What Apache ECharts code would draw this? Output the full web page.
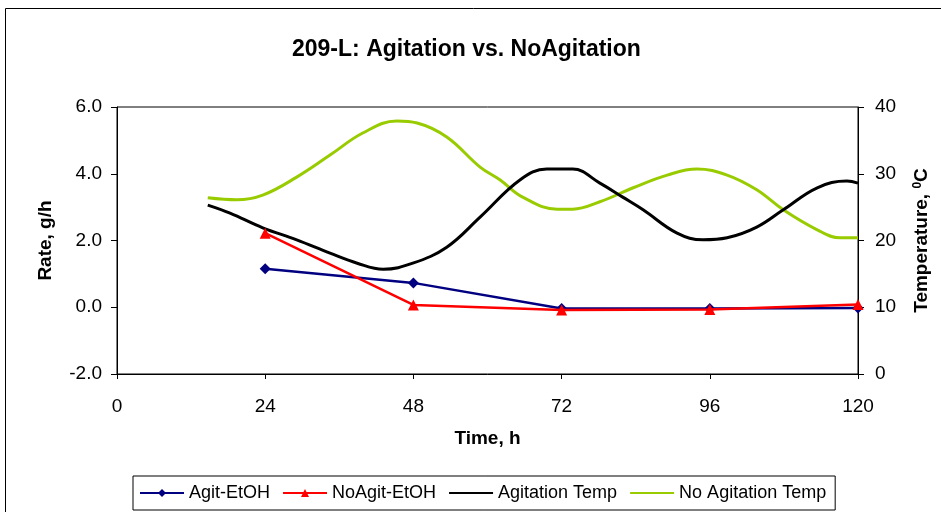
<!DOCTYPE html>
<html>
<head>
<meta charset="utf-8">
<script src="https://cdn.jsdelivr.net/npm/echarts@6/dist/echarts.min.js"></script>
<style>
  html, body { margin: 0; padding: 0; background: #fff; }
  #chart { width: 941px; height: 512px; }
</style>
</head>
<body>
<div id="chart"></div>
<script>
// Sampling times (h) and measured ethanol rates (g/h)
var rateTimes = [24, 48, 72, 96, 120];
var agitEtOH = [1.15, 0.73, -0.04, -0.04, -0.02];
var noAgitEtOH = [2.22, 0.07, -0.08, -0.07, 0.08];

// Temperature log (h, degC)
var agitTempTimes = [14.7, 18.3, 23.6, 29.1, 34.5, 38.9, 43.1, 47.9, 53.4, 58.8, 65.3, 69.6, 73.8, 78.2, 81.9, 85.2, 90.7, 94.9, 98.8, 103.6, 107.9, 113.4, 118.2, 120];
var agitTemp = [25.3, 24.1, 21.9, 20.1, 18.1, 16.6, 15.7, 16.6, 19.0, 23.5, 29.1, 30.7, 30.7, 28.6, 26.5, 24.6, 21.1, 20.1, 20.4, 22.0, 24.6, 27.9, 28.9, 28.6];

var noAgitTempTimes = [14.7, 19.4, 23.6, 29.1, 34.5, 39.8, 45.3, 48.6, 53.4, 58.8, 62.0, 65.7, 71.3, 73.8, 78.2, 83.6, 89.1, 93.9, 98.8, 103.6, 107.9, 113.4, 117.1, 120];
var noAgitTemp = [26.4, 26.1, 26.8, 29.5, 32.8, 36.1, 37.9, 37.6, 35.5, 31.0, 29.1, 26.5, 24.7, 24.7, 25.8, 27.9, 29.8, 30.7, 29.8, 27.6, 24.6, 21.6, 20.4, 20.4];

// Axis ticks
var timeTicks = [0, 24, 48, 72, 96, 120];
var rateTicks = [-2, 0, 2, 4, 6];
var tempTicks = [0, 10, 20, 30, 40];

function pairs(xs, ys) {
  return xs.map(function (x, i) { return [x, ys[i]]; });
}

var font = 'Liberation Sans, Arial, sans-serif';
var nameStyle = { fontFamily: font, fontSize: 19, fontWeight: 'bold', color: '#000' };
var labelStyle = { fontFamily: font, fontSize: 19, color: '#000' };
var chart = echarts.init(document.getElementById('chart'));

chart.setOption({
  animation: false,
  backgroundColor: '#fff',
  title: {
    text: '209-L: Agitation vs. NoAgitation',
    left: 287,
    top: 33,
    textStyle: { fontFamily: font, fontSize: 23, fontWeight: 'bold', color: '#000' }
  },
  graphic: [{
    type: 'rect',
    shape: { x: 5.5, y: 8.5, width: 960, height: 520 },
    style: { fill: 'none', stroke: '#000', lineWidth: 1 },
    silent: true,
    z: -1
  }],
  legend: {
    bottom: 2,
    left: 133,
    padding: [8, 9, 8, 6],
    borderColor: '#000',
    borderWidth: 1,
    itemWidth: 44,
    itemHeight: 10,
    itemGap: 12,
    textStyle: { fontFamily: font, fontSize: 18, color: '#000' },
    data: [
      'Agit-EtOH',
      'NoAgit-EtOH',
      { name: 'Agitation Temp', itemStyle: { opacity: 0 } },
      { name: 'No Agitation Temp', itemStyle: { opacity: 0 } }
    ]
  },
  grid: {
    left: 117, right: 83, top: 107, bottom: 138,
    show: true, borderColor: '#000', borderWidth: 1, backgroundColor: '#fff'
  },
  xAxis: {
    type: 'value',
    min: timeTicks[0],
    max: timeTicks[timeTicks.length - 1],
    interval: 24,
    name: 'Time, h',
    nameLocation: 'middle',
    nameGap: 55,
    nameTextStyle: nameStyle,
    axisLine: { onZero: false, lineStyle: { color: '#000', width: 1 } },
    axisTick: { show: true, length: 5, lineStyle: { color: '#000' } },
    axisLabel: Object.assign({ margin: 23 }, labelStyle),
    splitLine: { show: false }
  },
  yAxis: [{
    type: 'value',
    min: rateTicks[0],
    max: rateTicks[rateTicks.length - 1],
    interval: 2,
    position: 'left',
    name: 'Rate, g/h',
    nameLocation: 'middle',
    nameRotate: 90,
    nameGap: 62,
    nameTextStyle: nameStyle,
    axisLine: { show: true, lineStyle: { color: '#000', width: 1 } },
    axisTick: { show: true, length: 6, lineStyle: { color: '#000' } },
    axisLabel: Object.assign({
      margin: 15,
      formatter: function (v) { return v.toFixed(1); }
    }, labelStyle),
    splitLine: { show: false }
  }, {
    type: 'value',
    min: tempTicks[0],
    max: tempTicks[tempTicks.length - 1],
    interval: 10,
    position: 'right',
    name: 'Temperature, {sup|0}C',
    nameLocation: 'middle',
    nameRotate: 90,
    nameGap: 54,
    nameTextStyle: Object.assign({
      rich: {
        sup: { fontFamily: font, fontSize: 12, fontWeight: 'bold', color: '#000', verticalAlign: 'top', padding: [0, 0, 7, 0] }
      }
    }, nameStyle),
    axisLine: { show: true, lineStyle: { color: '#000', width: 1 } },
    axisTick: { show: true, length: 6, lineStyle: { color: '#000' } },
    axisLabel: Object.assign({ margin: 17 }, labelStyle),
    splitLine: { show: false }
  }],
  series: [{
    name: 'Agit-EtOH',
    type: 'line',
    yAxisIndex: 0,
    data: pairs(rateTimes, agitEtOH),
    symbol: 'diamond',
    symbolSize: 11,
    itemStyle: { color: '#000080' },
    lineStyle: { color: '#000080', width: 2.5 },
    z: 4
  }, {
    name: 'NoAgit-EtOH',
    type: 'line',
    yAxisIndex: 0,
    data: pairs(rateTimes, noAgitEtOH),
    symbol: 'triangle',
    symbolSize: 11,
    itemStyle: { color: '#ff0000' },
    lineStyle: { color: '#ff0000', width: 2.5 },
    z: 5
  }, {
    name: 'Agitation Temp',
    type: 'line',
    yAxisIndex: 1,
    data: pairs(agitTempTimes, agitTemp),
    smooth: 0.4,
    symbol: 'none',
    itemStyle: { color: '#000000' },
    lineStyle: { color: '#000000', width: 3 },
    z: 3
  }, {
    name: 'No Agitation Temp',
    type: 'line',
    yAxisIndex: 1,
    data: pairs(noAgitTempTimes, noAgitTemp),
    smooth: 0.4,
    symbol: 'none',
    itemStyle: { color: '#99cc00' },
    lineStyle: { color: '#99cc00', width: 3 },
    z: 2
  }]
});
</script>
</body>
</html>
